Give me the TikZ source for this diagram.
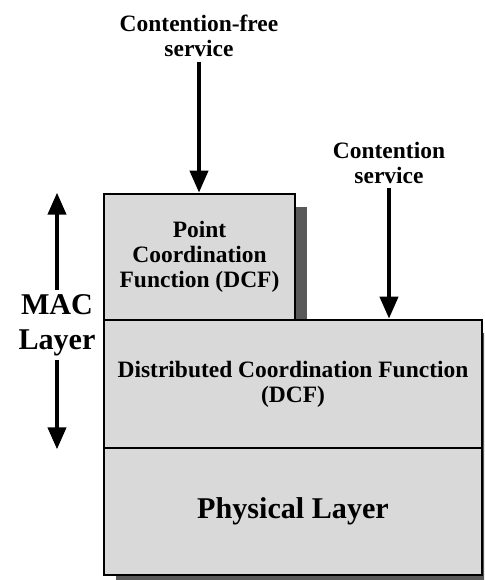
\documentclass[tikz,border=0pt]{standalone}
\usepackage{fontspec}
\setmainfont{Liberation Serif}
\usetikzlibrary{positioning, calc, arrows.meta, shadows}

\begin{document}
\begin{tikzpicture}[x=0.75pt, y=-0.75pt,
    >={Triangle[width=13.5pt, length=16.5pt]},
    layerbox/.style={draw, line width=2pt, fill=black!15, inner sep=0pt,
        drop shadow={shadow xshift=9pt, shadow yshift=-9.75pt, fill=black!65, opacity=1}},
    lbl/.style={align=center, font=\fontsize{17.6}{18.8}\selectfont\bfseries},
    biglbl/.style={align=center, font=\fontsize{22.6}{26}\selectfont\bfseries},
    svc/.style={->, line width=3pt}]

    % --- Frame of the picture ---
    \useasboundingbox (0,0) rectangle (484,580);
    \clip (0,0) rectangle (484,580);

    % --- Layer boxes ---
    % PCF sits on top of the DCF, on its left half
    \node[layerbox, lbl, minimum width=143.25pt, minimum height=94.5pt] (pcf) at (199.5,257)
        {Point\\Coordination\\Function (DCF)};
    \node[layerbox, lbl, minimum width=283.5pt, minimum height=96pt] (dcf) at (293,384)
        {Distributed Coordination Function\\(DCF)};
    \node[layerbox, biglbl, minimum width=283.5pt, minimum height=95.25pt] (phys) at (293,511.5)
        {Physical Layer};

    % --- Services coming in from above ---
    \node[lbl] (cfree) at (199,36) {Contention-free\\service};
    \draw[svc] (cfree.south) -- (cfree.south |- pcf.north);

    \node[lbl] (cserv) at (389,163) {Contention\\service};
    \draw[svc] (cserv.south) -- (cserv.south |- dcf.north);

    % --- MAC layer span on the left ---
    \node[biglbl] (mac) at (57,325) {MAC\\Layer};
    \draw[svc] (mac.north) -- (mac.north |- pcf.north);
    \draw[svc] (mac.south) -- (mac.south |- dcf.south);

\end{tikzpicture}
\end{document}
